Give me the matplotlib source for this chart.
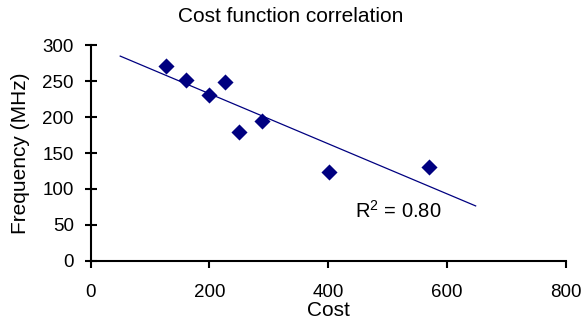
import numpy as np
import matplotlib
matplotlib.use('Agg')
import matplotlib.pyplot as plt

plt.rcParams['font.family'] = ['Liberation Sans', 'DejaVu Sans']
plt.rcParams['mathtext.fontset'] = 'custom'
plt.rcParams['mathtext.rm'] = 'Liberation Sans'

# data
cost = [127, 161, 200, 226, 250, 289, 401, 569]
freq = [271, 252, 230, 249, 179, 194, 124, 130]

# trend line as drawn (linear)
trend_slope = -0.348
trend_intercept = 302.0
trend_x = [50, 648]
r2_text = 'R$^2$ = 0.80'

fig = plt.figure(figsize=(5.82, 3.29), dpi=100)
ax = fig.add_axes([0.1555, 0.2067, 0.817, 0.6565])

ax.scatter(cost, freq, marker='D', s=8.2 ** 2, color='#000080', zorder=3,
           linewidths=0)
tx = np.array(trend_x, dtype=float)
ax.plot(tx, trend_slope * tx + trend_intercept, color='#000080', lw=0.9)

ax.text(445, 70, r2_text, fontsize=14.5, va='center', ha='left')

ax.set_xlim(0, 800)
ax.set_ylim(0, 300)
ax.set_xticks([0, 200, 400, 600, 800])
ax.set_yticks(range(0, 301, 50))

for side in ['top', 'right']:
    ax.spines[side].set_visible(False)
for side in ['left', 'bottom']:
    ax.spines[side].set_linewidth(1.5)
ax.tick_params(axis='x', direction='out', length=5, width=1.5,
               labelsize=13.5, pad=11.5)
ax.tick_params(axis='y', direction='inout', length=8, width=1.5,
               labelsize=13.5, pad=8)

fig.text(0.5, 0.951, 'Cost function correlation', fontsize=15,
         ha='center', va='center')
ax.set_xlabel('Cost', fontsize=15, labelpad=0)
ax.set_ylabel('Frequency (MHz)', fontsize=15, labelpad=9)

fig.savefig('out.png', dpi=100)
